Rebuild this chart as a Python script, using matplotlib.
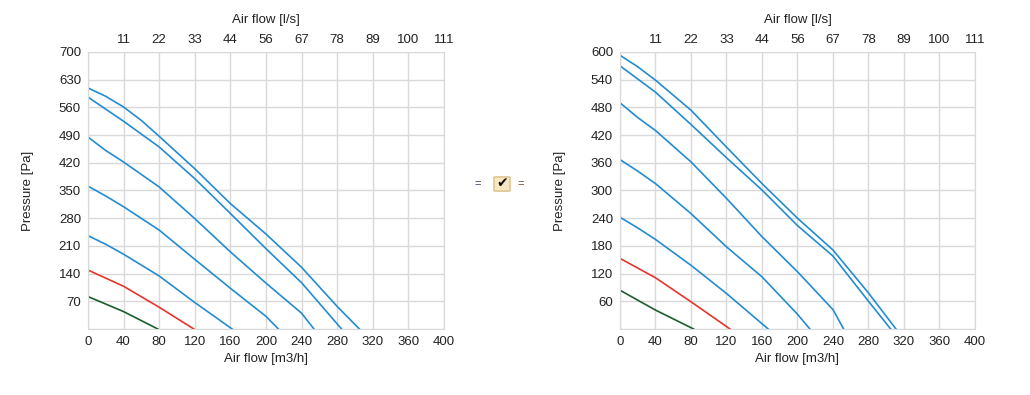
import matplotlib.pyplot as plt
from matplotlib.patches import FancyBboxPatch

plt.rcParams["font.family"] = ["Liberation Sans", "DejaVu Sans"]
plt.rcParams["font.size"] = 9.5

# air flow steps [m3/h]
top_labels = ["11", "22", "33", "44", "56", "67", "78", "89", "100", "111"]

# left chart: (flows, pressures) per curve
left_blue = [
    ([0, 20, 40, 60, 80, 120, 160, 200, 240, 280, 305], [609, 588, 561, 527, 487, 405, 317, 240, 156, 57, 0]),
    ([0, 40, 80, 120, 160, 200, 240, 285], [586, 525, 460, 380, 292, 203, 117, 0]),
    ([0, 20, 40, 80, 120, 160, 200, 240, 254], [485, 451, 422, 359, 279, 195, 116, 40, 0]),
    ([0, 20, 40, 80, 120, 160, 200, 214], [361, 336, 309, 250, 176, 103, 32, 0]),
    ([0, 20, 40, 80, 120, 162], [236, 214, 189, 134, 67, 0]),
]
left_red = ([0, 40, 80, 119], [149, 108, 55, 0])
left_green = ([0, 40, 78.5], [82, 44, 0])

# right chart
right_blue = [
    ([0, 20, 40, 80, 120, 160, 200, 240, 280, 311], [593, 568, 539, 474, 394, 315, 240, 171, 78, 0]),
    ([0, 40, 80, 120, 160, 200, 240, 280, 305], [570, 513, 443, 371, 301, 224, 158, 60, 0]),
    ([0, 20, 40, 80, 120, 160, 200, 240, 252], [490, 458, 430, 362, 283, 200, 124, 42, 0]),
    ([0, 20, 40, 80, 120, 160, 200, 214], [367, 342, 315, 250, 178, 113, 32, 0]),
    ([0, 20, 40, 80, 120, 167], [242, 219, 194, 138, 77, 0]),
]
right_red = ([0, 40, 80, 124], [153, 111, 59, 0])
right_green = ([0, 40, 83], [84, 41, 0])

BLUE = "#238cd2"
RED = "#e5352b"
GREEN = "#1d5c2c"
GRID = "#d9d9d9"


def draw_chart(ax, blue, red, green, ymax, ystep):
    for q, p in blue:
        ax.plot(q, p, color=BLUE, lw=1.2)
    ax.plot(red[0], red[1], color=RED, lw=1.2)
    ax.plot(green[0], green[1], color=GREEN, lw=1.2)

    ax.set_xlim(0, 400)
    ax.set_ylim(0, ymax)
    ax.set_xticks(range(0, 401, 40))
    yt = list(range(0, ymax + 1, ystep))
    ax.set_yticks(yt)
    ax.set_yticklabels([""] + [str(v) for v in yt[1:]])
    ax.grid(True, color=GRID, lw=1)
    ax.set_axisbelow(True)
    for s in ax.spines.values():
        s.set_color(GRID)
    ax.tick_params(length=0, pad=5, colors="#222222")
    ax.set_xlabel("Air flow [m3/h]", labelpad=4, color="#222222")
    ax.set_ylabel("Pressure [Pa]", labelpad=18, color="#222222")

    top = ax.twiny()
    top.set_xlim(0, 400)
    top.set_xticks(range(40, 401, 40))
    top.set_xticklabels(top_labels)
    top.tick_params(length=0, pad=4, colors="#222222")
    for s in top.spines.values():
        s.set_visible(False)
    top.set_xlabel("Air flow [l/s]", labelpad=8, color="#222222")


fig = plt.figure(figsize=(10.3, 3.95), dpi=100)
ax1 = fig.add_axes([0.0854, 0.1671, 0.3456, 0.7013])
ax2 = fig.add_axes([0.6019, 0.1671, 0.3447, 0.7013])

draw_chart(ax1, left_blue, left_red, left_green, 700, 70)
draw_chart(ax2, right_blue, right_red, right_green, 600, 60)

# middle toggle widget
fig.text(478 / 1030, 1 - 184 / 395, "=", ha="center", va="center", fontsize=8, color="#2a3f5a")
fig.text(521 / 1030, 1 - 184 / 395, "=", ha="center", va="center", fontsize=8, color="#6b4a2a")
box = FancyBboxPatch((495.5 / 1030, 1 - 190.5 / 395), 13 / 1030, 13 / 395,
                     boxstyle="round,pad=0.0015", transform=fig.transFigure,
                     fc="#f8e8c2", ec="#d9c08a", lw=1)
fig.patches.append(box)
fig.text(502 / 1030, 1 - 183.5 / 395, "\u2714", ha="center", va="center",
         fontsize=10, color="#111111", family="DejaVu Sans")

fig.savefig("out.png", dpi=100)
